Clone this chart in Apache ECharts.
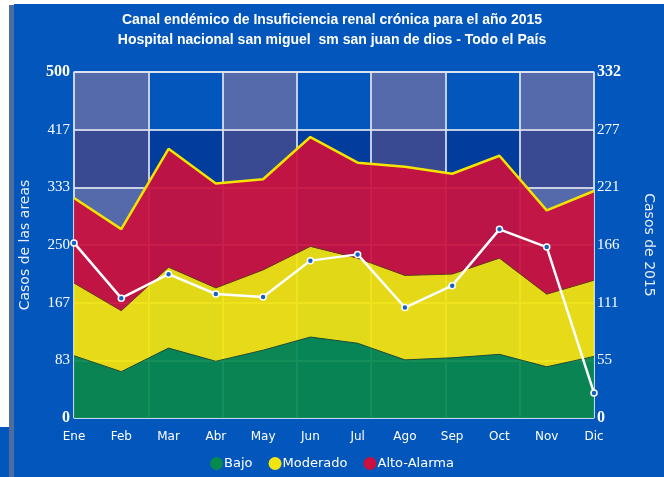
<!DOCTYPE html>
<html>
<head>
<meta charset="utf-8">
<script src="https://cdn.jsdelivr.net/npm/echarts@6/dist/echarts.min.js"></script>
<style>
  html, body { margin: 0; padding: 0; background: #fff; }
  #chart { width: 664px; height: 477px; }
</style>
</head>
<body>
<div id="chart"></div>
<script>
// datos del canal endemico
var meses = ['Ene', 'Feb', 'Mar', 'Abr', 'May', 'Jun', 'Jul', 'Ago', 'Sep', 'Oct', 'Nov', 'Dic']
var bajo = [90, 67, 101, 82, 98, 117, 108, 84, 87, 92, 74, 89]
var moderado = [195, 155, 218, 188, 214, 248, 231, 206, 208, 231, 179, 199]
var altoAlarma = [318, 273, 389, 339, 345, 406, 369, 363, 353, 379, 300, 328]
var casos2015 = [168, 115, 138, 119, 116, 151, 157, 106, 127, 181, 164, 24]

var azul = '#0356bb'
var lineaGrid = { color: 'rgba(225,228,240,0.85)', width: 2 }

// las areas se apilan: cada banda es la diferencia con la anterior
function resta (a, b) {
  return a.map(function (v, i) { return v - b[i] })
}

function etiqueta (maximo) {
  return function (v) {
    var r = Math.round(v)
    if (r === 0 || r === maximo) return '{b|' + r + '}'
    return '' + r
  }
}

var labelFont = {
  color: '#fff',
  fontFamily: 'Liberation Serif',
  fontSize: 15,
  rich: { b: { fontFamily: 'Liberation Serif', fontSize: 16, fontWeight: 'bold', color: '#fff' } }
}

// eje oculto para las franjas verticales
function ejeFranjas (z, conArea, conLinea) {
  return {
    type: 'value',
    z: z,
    min: 0, max: 7, interval: 1,
    position: 'top',
    axisLine: { show: false },
    axisTick: { show: false },
    axisLabel: { show: false },
    splitLine: { show: conLinea, lineStyle: lineaGrid },
    splitArea: { show: conArea, areaStyle: { color: ['rgba(165,125,155,0.5)', 'rgba(0,0,0,0)'] } }
  }
}

var myChart = echarts.init(document.getElementById('chart'))
myChart.setOption({
  backgroundColor: '#fff',
  animation: false,
  graphic: [
    { type: 'rect', z: -10, shape: { x: 14, y: 4, width: 650, height: 473 }, style: { fill: azul } },
    { type: 'rect', z: -10, shape: { x: 9, y: 5, width: 5, height: 472 }, style: { fill: '#4d6d9c' } },
    { type: 'rect', z: -10, shape: { x: 0, y: 427, width: 9, height: 50 }, style: { fill: azul } }
  ],
  title: {
    text: 'Canal endémico de Insuficiencia renal crónica para el año 2015\nHospital nacional san miguel  sm san juan de dios - Todo el País',
    left: 'center',
    top: 5,
    textStyle: { color: '#fff', fontFamily: 'Liberation Sans', fontSize: 14, fontWeight: 'bold', lineHeight: 20 }
  },
  legend: {
    bottom: 2,
    left: 'center',
    icon: 'circle',
    itemWidth: 13,
    itemHeight: 13,
    itemGap: 16,
    textStyle: { color: '#fff', fontFamily: 'DejaVu Sans', fontSize: 13, padding: [0, 0, 0, -4] },
    data: [
      { name: 'Bajo', itemStyle: { color: '#08894f' } },
      { name: 'Moderado', itemStyle: { color: '#f2e40e' } },
      { name: 'Alto-Alarma', itemStyle: { color: '#c9103e' } }
    ]
  },
  grid: {
    left: 74, right: 70, top: 72, bottom: 59,
    show: true, borderColor: '#1f8ae6', borderWidth: 2, backgroundColor: 'transparent'
  },
  xAxis: [
    {
      type: 'category',
      data: meses,
      boundaryGap: false,
      axisLine: { show: false },
      axisTick: { show: false },
      axisLabel: { color: '#fff', fontFamily: 'DejaVu Sans', fontSize: 12, margin: 13 },
      splitLine: { show: false }
    },
    ejeFranjas(0, true, false),
    ejeFranjas(1, false, true)
  ],
  yAxis: [
    {
      type: 'value',
      z: 1,
      min: 0, max: 500, interval: 500 / 6,
      name: 'Casos de las areas',
      nameLocation: 'middle',
      nameGap: 42,
      nameTextStyle: { color: '#e8eef8', fontFamily: 'DejaVu Sans', fontSize: 14 },
      axisLine: { show: false },
      axisTick: { show: false },
      axisLabel: Object.assign({ margin: 4, formatter: etiqueta(500) }, labelFont),
      splitLine: { show: true, lineStyle: lineaGrid },
      splitArea: { show: true, areaStyle: { color: ['rgba(0,0,90,0.3)', 'rgba(0,0,0,0)'] } }
    },
    {
      type: 'value',
      min: 0, max: 332, interval: 332 / 6,
      name: 'Casos de 2015',
      nameLocation: 'middle',
      nameGap: 48,
      nameRotate: -90,
      nameTextStyle: { color: '#e8eef8', fontFamily: 'DejaVu Sans', fontSize: 14 },
      axisLine: { show: false },
      axisTick: { show: false },
      axisLabel: Object.assign({ margin: 3, formatter: etiqueta(332) }, labelFont),
      splitLine: { show: false }
    }
  ],
  series: [
    {
      name: 'Bajo',
      type: 'line',
      stack: 'canal',
      data: bajo,
      symbol: 'none',
      color: '#08894f',
      lineStyle: { color: '#1d4d35', width: 1 },
      areaStyle: { color: '#08894f', opacity: 0.93 }
    },
    {
      name: 'Moderado',
      type: 'line',
      stack: 'canal',
      data: resta(moderado, bajo),
      symbol: 'none',
      color: '#f2e40e',
      lineStyle: { color: '#6e3a1c', width: 1 },
      areaStyle: { color: '#f2e40e', opacity: 0.93 }
    },
    {
      name: 'Alto-Alarma',
      type: 'line',
      stack: 'canal',
      data: resta(altoAlarma, moderado),
      symbol: 'none',
      color: '#c9103e',
      lineStyle: { color: '#f5e400', width: 2.5 },
      areaStyle: { color: '#c9103e', opacity: 0.93 }
    },
    {
      name: 'Casos 2015',
      type: 'line',
      yAxisIndex: 1,
      data: casos2015,
      symbol: 'circle',
      symbolSize: 6,
      z: 5,
      lineStyle: { color: '#fff', width: 2.5 },
      itemStyle: { color: '#1560c4', borderColor: '#fff', borderWidth: 1.5 }
    }
  ]
})
</script>
</body>
</html>
